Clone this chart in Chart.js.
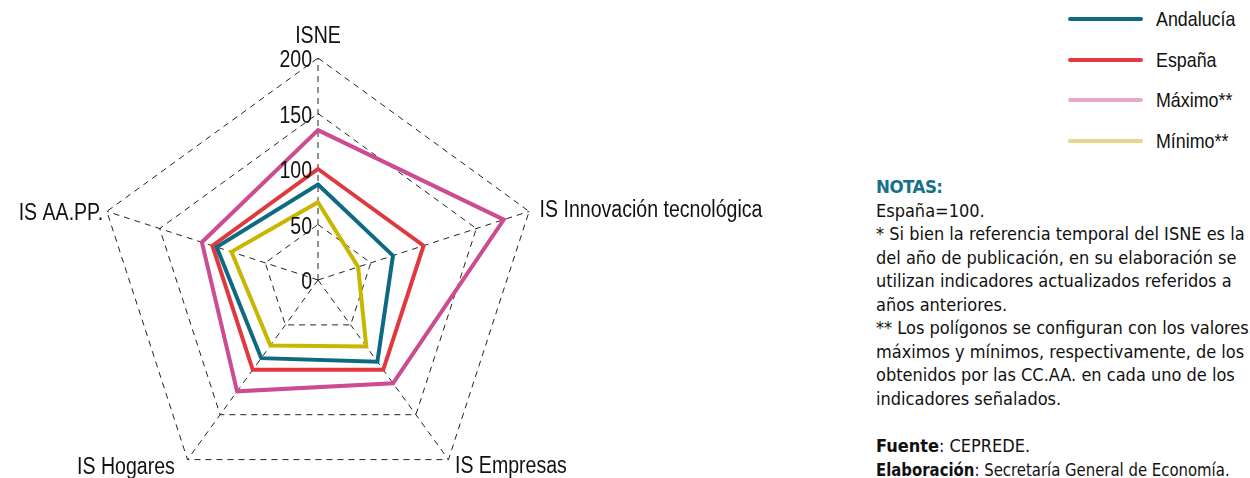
<!DOCTYPE html>
<html>
<head>
<meta charset="utf-8">
<script src="https://cdn.jsdelivr.net/npm/chart.js@4/dist/chart.umd.min.js"></script>
<style>
  body { margin: 0; width: 1250px; height: 478px; overflow: hidden; background: #fff;
         font-family: "DejaVu Sans Condensed", "Liberation Sans", sans-serif; color: #111; }
  #chart-box { position: absolute; left: 0; top: 0; width: 860px; height: 520px; }
  #legend { position: absolute; left: 1068px; top: 6px; }
  .legend-item { position: relative; height: 40.5px; }
  .legend-line { position: absolute; left: 0; top: 11px; width: 75px; height: 4px; border-radius: 2px; }
  .legend-text { position: absolute; left: 88px; top: 1px; font-family: "Liberation Sans", sans-serif;
                 font-size: 21px; white-space: nowrap; transform: scaleX(0.85); transform-origin: left center; }
  #notes { position: absolute; left: 876px; top: 175px; width: 374px; font-size: 18px; line-height: 23.55px; }
  #notes .title { color: #17708c; font-size: 18.5px; font-weight: bold; letter-spacing: -0.5px; }
  #notes b { font-weight: bold; }
  #notes .nowrap { white-space: nowrap; transform: scaleX(0.92); transform-origin: left center; }
</style>
</head>
<body>
<div id="chart-box"><canvas id="radar"></canvas></div>
<div id="legend"></div>
<div id="notes">
  <div class="title">NOTAS:</div>
  <div>España=100.</div>
  <div>* Si bien la referencia temporal del ISNE es la del año de publicación, en su elaboración se utilizan indicadores actualizados referidos a años anteriores.</div>
  <div>** Los polígonos se configuran con los valores máximos y mínimos, respectivamente, de los obtenidos por las CC.AA. en cada uno de los indicadores señalados.</div>
  <div>&nbsp;</div>
  <div><b>Fuente</b>: CEPREDE.</div>
  <div class="nowrap"><b>Elaboración</b>: Secretaría General de Economía.</div>
</div>
<script>
const categories = ["ISNE", "IS Innovación tecnológica", "IS Empresas", "IS Hogares", "IS AA.PP."];
const andalucia = [86, 71, 91, 87, 96];
const espana = [100, 100, 100, 100, 100];
const maximo = [135, 176, 115, 124, 110];
const minimo = [70, 38, 74, 73, 82];
const tickValues = [0, 50, 100, 150, 200];

const seriesNames = ["Andalucía", "España", "Máximo**", "Mínimo**"];
const lineColors = ["#0e6a83", "#e0383e", "#cc4b91", "#c9b600"];
const legendColors = ["#0e6a83", "#e5393f", "#e6a9c9", "#e4d98b"];

renderLegend();

function renderLegend() {
  let html = "";
  for (let i = 0; i < seriesNames.length; i++) {
    html += `<div class="legend-item"><div class="legend-line" style="background:${legendColors[i]}"></div>` +
      `<div class="legend-text">${seriesNames[i]}</div></div>`;
  }
  document.querySelector("#legend").innerHTML = html;
}

const labelFont = '23px "Liberation Sans", Arial, sans-serif';

function narrowText(ctx, text, x, y) {
  // the original uses a narrow face, squeeze a regular one
  ctx.save();
  ctx.translate(x, y);
  ctx.scale(0.85, 1);
  ctx.fillText(text, 0, 0);
  ctx.restore();
}

// tick numbers and axis names drawn next to the scale
const radarLabels = {
  id: "radarLabels",
  afterDraw(chart) {
    const scale = chart.scales.r;
    const ctx = chart.ctx;
    ctx.save();
    ctx.font = labelFont;
    ctx.fillStyle = "#111";
    ctx.textBaseline = "middle";
    ctx.textAlign = "right";
    for (const v of tickValues) {
      const d = scale.getDistanceFromCenterForValue(v);
      narrowText(ctx, String(v), scale.xCenter - 6, scale.yCenter - d + 3);
    }
    const outer = scale.getDistanceFromCenterForValue(200);
    const pads = [21, 11, 11, 13, 4];
    categories.forEach((name, i) => {
      const p = scale.getPointPosition(i, outer + pads[i]);
      let x = p.x;
      if (Math.abs(p.x - scale.xCenter) < 2) ctx.textAlign = "center";
      else ctx.textAlign = p.x > scale.xCenter ? "left" : "right";
      let y = p.y;
      if (p.y > scale.yCenter + 10) {
        y -= 2;
        if (p.x < scale.xCenter) x -= 5;
      } else if (i > 0) {
        y += 3;
      }
      narrowText(ctx, name, x, y);
    });
    ctx.restore();
  }
};

const seriesValues = [andalucia, espana, maximo, minimo];
const datasets = seriesNames.map((name, i) => ({
  label: name,
  data: seriesValues[i],
  borderColor: lineColors[i],
  backgroundColor: "transparent",
  borderWidth: 4,
  fill: false,
  pointRadius: 0,
  order: i === 2 ? 5 : i,
}));

new Chart(document.getElementById("radar"), {
  type: "radar",
  data: { labels: categories, datasets },
  options: {
    responsive: true,
    maintainAspectRatio: false,
    animation: false,
    layout: { padding: { top: 58, bottom: 18, left: 96, right: 320 } },
    plugins: { legend: { display: false }, tooltip: { enabled: false } },
    elements: { line: { tension: 0, borderJoinStyle: "miter" } },
    scales: {
      r: {
        min: 0,
        max: 200,
        ticks: { stepSize: 50, display: false },
        pointLabels: { display: false },
        grid: { color: "#222", lineWidth: 1 },
        border: { dash: [6, 5] },
        angleLines: { color: "#222", lineWidth: 1, borderDash: [6, 5] },
      },
    },
  },
  plugins: [radarLabels],
});
</script>
</body>
</html>
